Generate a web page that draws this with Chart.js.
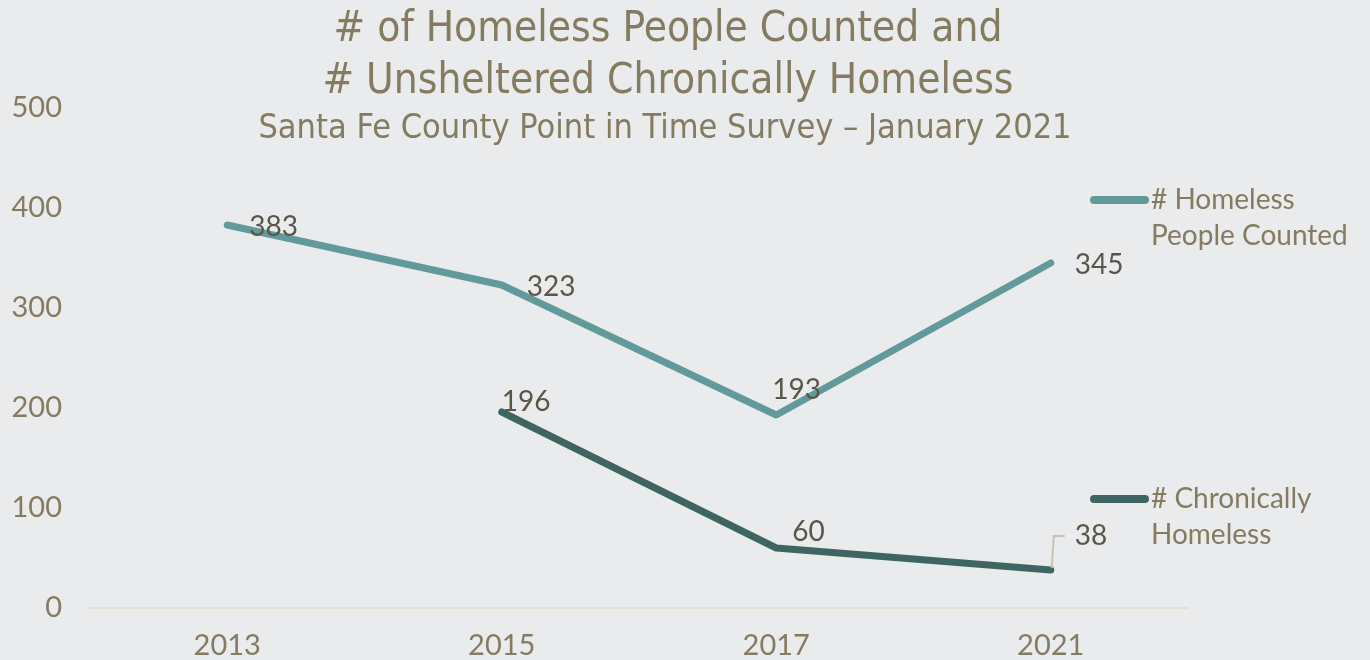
<!DOCTYPE html>
<html>
<head>
<meta charset="utf-8">
<script src="https://cdn.jsdelivr.net/npm/chart.js@4"></script>
<style>
  html, body { margin: 0; padding: 0; background: #E9EBEC; }
  #wrap { width: 1370px; height: 660px; }
</style>
</head>
<body>
<div id="wrap"><canvas id="myChart"></canvas></div>
<script>
const years = ['2013', '2015', '2017', '2021'];
const homelessCounted = [383, 323, 193, 345];
const chronicallyHomeless = [null, 196, 60, 38];
const yTicks = [0, 100, 200, 300, 400, 500];

const titleLines = ['# of Homeless People Counted and', '# Unsheltered Chronically Homeless'];
const subtitleText = 'Santa Fe County Point in Time Survey \u2013 January 2021';

const TEXT_COLOR = '#857B61';
const LABEL_COLOR = '#5A5647';
const TEAL = '#62999A';
const DARK_TEAL = '#3F6563';
const BASE_FONT = 'Lato, "Noto Sans", sans-serif';
const NARROW_FONT = '"Liberation Sans Narrow", "DejaVu Sans Condensed", sans-serif';

// label offsets relative to the point, left edge / vertical middle
const labelOffsets = [
    [[22, 2], [25, 2], [-4, -25], [24, 2]],
    [null, [0, -10], [16, -16], [24, -34]],
];

const titlePlugin = {
    id: 'titles',
    afterDraw(chart) {
        const ctx = chart.ctx;
        ctx.save();
        ctx.fillStyle = TEXT_COLOR;
        ctx.textAlign = 'center';
        ctx.textBaseline = 'middle';
        ctx.font = '42px ' + NARROW_FONT;
        ctx.fillText(titleLines[0], 668, 30);
        ctx.fillText(titleLines[1], 668, 82);
        ctx.font = '34px ' + NARROW_FONT;
        ctx.fillText(subtitleText, 665, 129);
        ctx.restore();
    }
};

const legendPlugin = {
    id: 'sideLegend',
    afterDraw(chart) {
        const ctx = chart.ctx;
        const items = [
            { color: TEAL, y: 200, lines: ['# Homeless', 'People Counted'] },
            { color: DARK_TEAL, y: 499, lines: ['# Chronically', 'Homeless'] },
        ];
        ctx.save();
        items.forEach(item => {
            ctx.strokeStyle = item.color;
            ctx.lineWidth = 8;
            ctx.lineCap = 'round';
            ctx.beginPath();
            ctx.moveTo(1094, item.y);
            ctx.lineTo(1145, item.y);
            ctx.stroke();
            ctx.fillStyle = TEXT_COLOR;
            ctx.font = '28px ' + BASE_FONT;
            ctx.textAlign = 'left';
            ctx.textBaseline = 'middle';
            item.lines.forEach((line, i) => ctx.fillText(line, 1151, item.y + i * 36));
        });
        ctx.restore();
    }
};

const dataLabelPlugin = {
    id: 'dataLabels',
    afterDatasetsDraw(chart) {
        const ctx = chart.ctx;
        ctx.save();
        ctx.font = '28px ' + BASE_FONT;
        ctx.fillStyle = LABEL_COLOR;
        ctx.textAlign = 'left';
        ctx.textBaseline = 'middle';
        chart.data.datasets.forEach((ds, di) => {
            const meta = chart.getDatasetMeta(di);
            meta.data.forEach((pt, i) => {
                if (ds.data[i] === null) return;
                const off = labelOffsets[di][i];
                ctx.fillText(String(ds.data[i]), pt.x + off[0], pt.y + off[1]);
                if (di === 1 && i === 3) {
                    // leader line
                    ctx.strokeStyle = '#C9C2B0';
                    ctx.lineWidth = 2;
                    ctx.beginPath();
                    ctx.moveTo(pt.x + 1, pt.y - 2);
                    ctx.lineTo(pt.x + 3, pt.y + off[1]);
                    ctx.lineTo(pt.x + 14, pt.y + off[1]);
                    ctx.stroke();
                }
            });
        });
        ctx.restore();
    }
};

const ctx = document.getElementById('myChart').getContext('2d');
new Chart(ctx, {
    type: 'line',
    data: {
        labels: years,
        datasets: [
            {
                label: '# Homeless People Counted',
                data: homelessCounted,
                borderColor: TEAL,
                borderWidth: 7,
                borderCapStyle: 'round',
                borderJoinStyle: 'round',
                pointRadius: 0,
                tension: 0,
            },
            {
                label: '# Chronically Homeless',
                data: chronicallyHomeless,
                borderColor: DARK_TEAL,
                borderWidth: 7,
                borderCapStyle: 'round',
                borderJoinStyle: 'round',
                pointRadius: 0,
                tension: 0,
            }
        ]
    },
    options: {
        responsive: true,
        maintainAspectRatio: false,
        animation: false,
        layout: { padding: { top: 108, right: 182, left: 0, bottom: 0 } },
        plugins: {
            legend: { display: false },
            title: { display: false },
            tooltip: { enabled: false },
        },
        scales: {
            x: {
                offset: true,
                grid: { display: false, drawTicks: false },
                border: { color: '#E4E0D4', width: 2 },
                ticks: { color: TEXT_COLOR, font: { family: BASE_FONT, size: 29 }, padding: 20 },
                afterFit: scale => { scale.height = 52; },
            },
            y: {
                min: 0,
                max: 500,
                afterBuildTicks: scale => { scale.ticks = yTicks.map(v => ({ value: v })); },
                grid: { display: false, drawTicks: false },
                border: { display: false },
                ticks: { color: TEXT_COLOR, font: { family: BASE_FONT, size: 29 }, padding: 28 },
                afterFit: scale => { scale.width = 90; },
            }
        }
    },
    plugins: [titlePlugin, legendPlugin, dataLabelPlugin]
});
</script>
</body>
</html>
